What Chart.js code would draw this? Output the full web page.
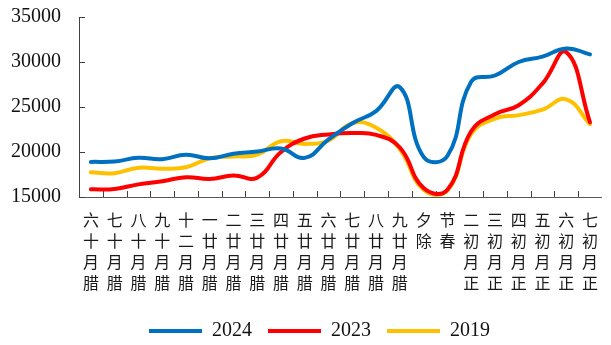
<!DOCTYPE html>
<html>
<head>
<meta charset="utf-8">
<script src="https://cdn.jsdelivr.net/npm/chart.js@4"></script>
<style>
    html, body { margin: 0; padding: 0; background: #fff; overflow: hidden; }
    #wrap { width: 611px; height: 345px; }
</style>
</head>
<body>
<div id="wrap"><canvas id="trafficChart"></canvas></div>
<script>
// 农历日期
const days = ['腊月十六', '腊月十七', '腊月十八', '腊月十九', '腊月二十', '腊月廿一', '腊月廿二', '腊月廿三',
    '腊月廿四', '腊月廿五', '腊月廿六', '腊月廿七', '腊月廿八', '腊月廿九', '除夕', '春节',
    '正月初二', '正月初三', '正月初四', '正月初五', '正月初六', '正月初七'];

const series2024 = [18900, 18950, 19350, 19200, 19700, 19300, 19800, 20050, 20400, 19350, 21400,
    23200, 24550, 27200, 19450, 19550, 27800, 28500, 30000, 30600, 31500, 30850];
const series2023 = [15850, 15900, 16400, 16750, 17200, 17000, 17400, 17150, 20000, 21500, 21950,
    22100, 21900, 20500, 16000, 15800, 22300, 24200, 25200, 27600, 31100, 23300];
const series2019 = [17750, 17650, 18250, 18150, 18300, 19300, 19500, 19700, 21200, 20900, 21300,
    23200, 22700, 20300, 15800, 15700, 22000, 23700, 24100, 24700, 25850, 23100];

const yTicks = [15000, 20000, 25000, 30000, 35000];

// 竖排标签：每行一个字，从下往上读
const stackedLabels = days.map((d) => [...d].reverse());

const serif = "'Liberation Serif', 'Times New Roman', serif";

// 坐标轴内侧的短刻度线
const innerTicks = {
    id: 'innerTicks',
    beforeDatasetsDraw(chart) {
        const { ctx, chartArea, scales: { x, y } } = chart;
        ctx.save();
        ctx.strokeStyle = '#404040';
        ctx.lineWidth = 1;
        ctx.beginPath();
        for (let i = 1; i < x.ticks.length; i++) {
            const px = Math.round((x.getPixelForTick(i - 1) + x.getPixelForTick(i)) / 2) + 0.5;
            ctx.moveTo(px, chartArea.bottom);
            ctx.lineTo(px, chartArea.bottom - 6);
        }
        y.ticks.forEach((t, i) => {
            const py = Math.round(y.getPixelForTick(i)) + 0.5;
            ctx.moveTo(chartArea.left, py);
            ctx.lineTo(chartArea.left + 6, py);
        });
        ctx.stroke();
        ctx.restore();
    },
};

// 图例整体右移一点
const legendShift = {
    id: 'legendShift',
    afterLayout(chart) {
        chart.legend.left += 14;
        chart.legend.right += 14;
    },
};

const line = (label, data, color) => ({
    label,
    data,
    borderColor: color,
    backgroundColor: color,
    borderWidth: 4,
    borderCapStyle: 'round',
    pointRadius: 0,
    pointHoverRadius: 0,
    tension: 0.45,
});

new Chart(document.getElementById('trafficChart'), {
    type: 'line',
    data: {
        labels: stackedLabels,
        datasets: [
            line('2024', series2024, '#0070C0'),
            line('2023', series2023, '#FF0000'),
            line('2019', series2019, '#FFC000'),
        ],
    },
    plugins: [innerTicks, legendShift],
    options: {
        responsive: true,
        maintainAspectRatio: false,
        animation: false,
        events: [],
        layout: { padding: { top: 17, left: 0, right: 0, bottom: -6 } },
        scales: {
            x: {
                offset: true,
                grid: { display: false, drawTicks: false },
                border: { color: '#595959', width: 1 },
                ticks: {
                    autoSkip: false,
                    maxRotation: 0,
                    minRotation: 0,
                    padding: 13,
                    color: '#1a1a1a',
                    font: { family: "'Noto Sans CJK SC', sans-serif", size: 16, lineHeight: 1.3 },
                },
                afterFit(scale) { scale.height = 108; },
            },
            y: {
                min: 15000,
                max: 35000,
                grid: { display: false, drawTicks: false },
                border: { color: '#404040', width: 1 },
                afterBuildTicks(scale) { scale.ticks = yTicks.map((v) => ({ value: v })); },
                ticks: {
                    padding: 18,
                    color: '#111',
                    font: { family: serif, size: 20 },
                    callback: (v) => String(v),
                },
                afterFit(scale) {
                    scale.width = 79;
                    scale.paddingTop = 0;
                    scale.paddingBottom = 0;
                },
            },
        },
        plugins: {
            legend: {
                position: 'bottom',
                labels: {
                    usePointStyle: true,
                    pointStyle: 'line',
                    pointStyleWidth: 53,
                    padding: 16,
                    color: '#111',
                    font: { family: serif, size: 20 },
                },
            },
            tooltip: { enabled: false },
        },
    },
});
</script>
</body>
</html>
